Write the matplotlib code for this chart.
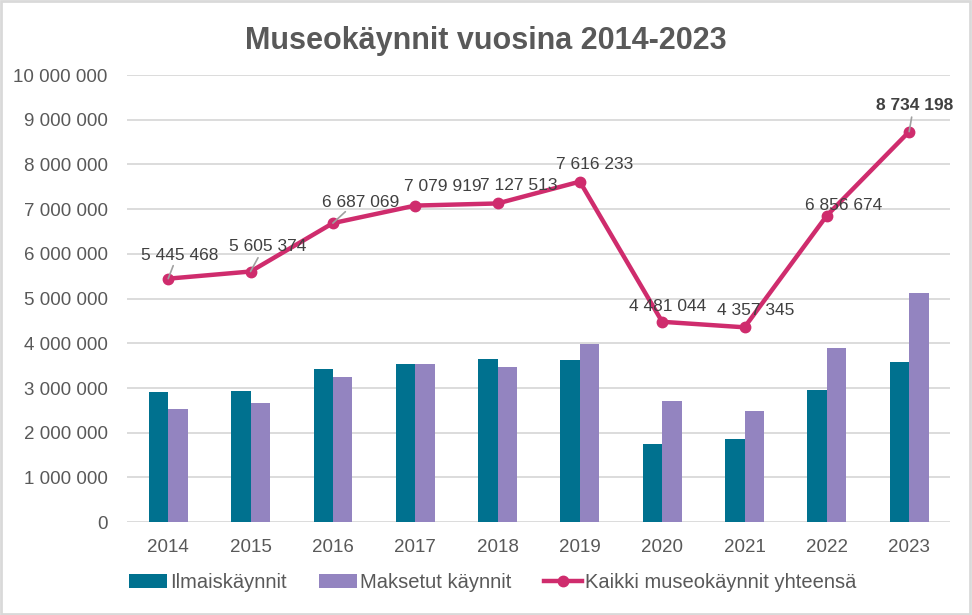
import matplotlib.pyplot as plt
import numpy as np
from matplotlib.patches import Rectangle

plt.rcParams['font.family'] = ['Liberation Sans', 'DejaVu Sans']

years = ['2014', '2015', '2016', '2017', '2018', '2019', '2020', '2021', '2022', '2023']
ilmais = [2920000, 2930000, 3430000, 3540000, 3650000, 3630000, 1750000, 1850000, 2960000, 3580000]
maksetut = [2520000, 2670000, 3240000, 3530000, 3480000, 3980000, 2720000, 2480000, 3900000, 5130000]
yhteensa = [5445468, 5605374, 6687069, 7079919, 7127513, 7616233, 4481044, 4357345, 6856674, 8734198]
# label offsets in points (dx, dy) relative to line points
label_offsets = [(8, 17), (12, 18), (20, 15), (20, 14), (15, 13), (11, 12), (4, 11), (8, 12), (12, 7), (4, 19)]
leader = [True, True, True, False, False, False, False, False, False, True]

teal = '#00718F'
purple = '#9384C0'
pink = '#CF2C6D'
txt = '#404040'
grey = '#595959'

fig = plt.figure(figsize=(9.72, 6.15), dpi=100)
ax = fig.add_axes([0.1307, 0.151, 0.847, 0.727])

x = np.arange(len(years))
w = 0.235
b1 = ax.bar(x - w / 2, ilmais, w, color=teal, label='Ilmaiskäynnit', zorder=2)
b2 = ax.bar(x + w / 2, maksetut, w, color=purple, label='Maksetut käynnit', zorder=2)
ln, = ax.plot(x, yhteensa, color=pink, lw=3.2, marker='o', ms=7.5,
              label='Kaikki museokäynnit yhteensä', zorder=3)

for i, v in enumerate(yhteensa):
    s = f'{v:,}'.replace(',', ' ')
    dx, dy = label_offsets[i]
    bold = i == len(yhteensa) - 1
    ax.annotate(s, (x[i], v), xytext=(dx, dy), textcoords='offset points',
                ha='center', va='center', fontsize=12.5, color=txt,
                fontweight='bold' if bold else 'normal', zorder=4)
    if leader[i]:
        ax.annotate('', (x[i], v), xytext=(dx * 0.45, dy * 0.55), textcoords='offset points',
                    arrowprops=dict(arrowstyle='-', color='#A0A0A0', lw=1.2,
                                    shrinkA=0, shrinkB=0), zorder=3.5)

ax.set_xlim(-0.5, len(years) - 0.5)
ax.set_ylim(0, 10000000)
ax.set_yticks(np.arange(0, 10000001, 1000000))
ax.set_yticklabels([f'{int(t):,}'.replace(',', ' ') for t in ax.get_yticks()])
ax.set_xticks(x)
ax.set_xticklabels(years)
ax.tick_params(axis='both', length=0, labelsize=13.5, colors=grey)
ax.tick_params(axis='x', pad=12)
ax.tick_params(axis='y', pad=14)
ax.grid(axis='y', color='#D9D9D9', lw=1.3, zorder=0)
for sp in ax.spines.values():
    sp.set_visible(False)

fig.text(0.5, 0.933, 'Museokäynnit vuosina 2014-2023', ha='center', va='center',
         fontsize=22, fontweight='bold', color=grey)

fig.legend(handles=[b1, b2, ln], loc='center left', bbox_to_anchor=(0.114, 0.053),
           ncol=3, frameon=False, fontsize=14.5, labelcolor=grey,
           handlelength=1.9, handletextpad=0.15, columnspacing=1.6)

fig.patches.append(Rectangle((0.001, 0.002), 0.997, 0.996, transform=fig.transFigure,
                             fill=False, edgecolor='#D9D9D9', lw=2))

fig.savefig('out.png', dpi=100)
